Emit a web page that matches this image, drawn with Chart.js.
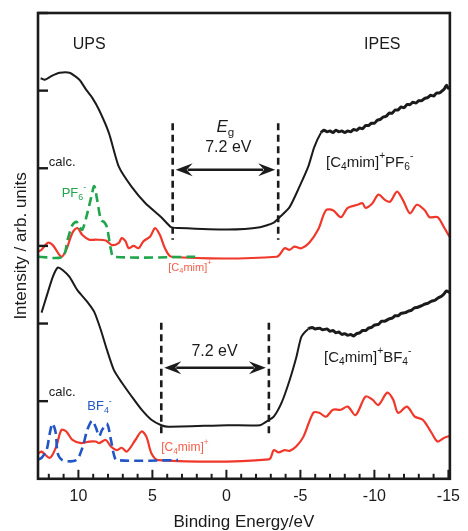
<!DOCTYPE html>
<html>
<head>
<meta charset="utf-8">
<script src="https://cdn.jsdelivr.net/npm/chart.js@4.4.1/dist/chart.umd.min.js"></script>
<style>
  body { margin: 0; background: #fff; }
  #wrap { width: 468px; height: 531px; }
</style>
</head>
<body>
<div id="wrap"><canvas id="spec" width="468" height="531"></canvas></div>
<script>
// binding energy (eV) / intensity (arb. units) pairs

// [C4mim]+PF6- : UPS + IPES measured
let expPF6 = [
  [12.55,5.16],[12.27,5.14],[11.8,5.19],[11.27,5.23],[10.6,5.23],[9.93,5.14],[9.47,5.01],
  [9.07,4.91],[8.6,4.75],[7.93,4.45],[7.27,4.02],[6.4,3.76],[5.47,3.55],[4.4,3.37],
  [3.73,3.24],[3.27,3.23],[-0.07,3.21],[-2.27,3.24],[-3.2,3.30],[-3.6,3.37],[-4.27,3.50],
  [-4.93,3.76],[-5.53,4.02],[-5.93,4.27],[-6.4,4.46],[-6.6,4.49],[-6.8,4.47],[-7.0,4.48],
  [-7.2,4.46],[-7.4,4.49],[-7.6,4.47],[-7.8,4.48],[-8.0,4.46],[-8.2,4.48],[-8.4,4.47],
  [-8.6,4.50],[-8.8,4.49],[-9.0,4.52],[-9.2,4.51],[-9.4,4.55],[-9.6,4.55],[-9.8,4.58],
  [-10.0,4.58],[-10.2,4.62],[-10.4,4.63],[-10.6,4.66],[-10.8,4.67],[-11.0,4.71],[-11.2,4.71],
  [-11.4,4.75],[-11.6,4.75],[-11.8,4.79],[-12.0,4.78],[-12.2,4.82],[-12.4,4.82],[-12.6,4.85],
  [-12.8,4.84],[-13.0,4.87],[-13.2,4.87],[-13.4,4.90],[-13.6,4.91],[-13.8,4.94],[-14.0,4.93],
  [-14.2,4.97],[-14.4,4.97],[-14.6,5.00],[-14.75,5.03],[-14.87,5.07],[-15.0,5.03],[-15.07,5.04]
];
// calculated DOS, cation part
let calcPF6 = [
  [12.7,2.93],[12.49,2.95],[12.07,3.04],[11.73,3.01],[11.15,2.86],[10.82,2.95],[10.4,3.17],
  [10.07,3.23],[9.73,3.14],[9.27,3.08],[8.82,3.08],[8.15,3.07],[7.73,3.01],[7.27,3.04],
  [7.07,3.10],[6.82,3.06],[6.6,2.97],[6.27,3.00],[5.93,2.97],[5.6,3.06],[5.15,3.12],
  [4.82,3.23],[4.49,3.14],[4.15,2.97],[3.71,2.86],[-3.4,2.86],[-3.93,2.97],[-4.27,2.95],
  [-4.6,2.99],[-5.07,2.97],[-5.6,3.04],[-6.2,3.21],[-6.73,3.46],[-7.2,3.46],[-7.73,3.37],
  [-8.2,3.49],[-8.87,3.53],[-9.2,3.55],[-9.4,3.49],[-9.87,3.55],[-10.27,3.66],[-10.73,3.59],
  [-11.07,3.57],[-11.53,3.70],[-11.93,3.59],[-12.4,3.42],[-12.87,3.53],[-13.4,3.46],
  [-13.73,3.37],[-14.27,3.37],[-14.73,3.23],[-15.07,3.12]
];
// calculated DOS, PF6- anion part
let anionPF6 = [
  [12.7,2.86],[11.07,2.86],[10.73,3.08],[10.4,3.27],[10.13,3.31],[9.93,3.24],[9.73,3.21],
  [9.4,3.42],[9.13,3.63],[8.93,3.77],[8.73,3.59],[8.47,3.33],[8.27,3.31],[8.07,3.24],
  [7.8,2.95],[7.6,2.86],[1.93,2.86]
];

// [C4mim]+BF4- : UPS + IPES measured
let expBF4 = [
  [12.49,2.14],[12.15,2.35],[11.73,2.60],[11.4,2.72],[11.07,2.69],[10.6,2.60],[10.07,2.43],
  [9.4,2.28],[8.93,2.15],[8.49,1.92],[8.07,1.66],[7.6,1.40],[7.07,1.24],[6.4,1.06],
  [5.73,0.89],[5.07,0.76],[4.4,0.69],[3.93,0.67],[-0.07,0.69],[-2.27,0.69],[-2.73,0.74],
  [-3.2,0.80],[-3.73,0.98],[-4.27,1.27],[-4.73,1.57],[-5.07,1.83],[-5.53,1.93],[-5.8,1.95],
  [-6.0,1.93],[-6.3,1.94],[-6.5,1.92],[-6.8,1.93],[-7.0,1.90],[-7.2,1.91],[-7.4,1.88],
  [-7.6,1.89],[-7.8,1.86],[-8.0,1.87],[-8.2,1.85],[-8.4,1.86],[-8.6,1.84],[-8.8,1.87],
  [-9.0,1.88],[-9.2,1.91],[-9.4,1.91],[-9.6,1.94],[-9.8,1.95],[-10.0,1.98],[-10.27,1.99],
  [-10.5,2.03],[-10.7,2.03],[-11.0,2.06],[-11.2,2.07],[-11.4,2.10],[-11.6,2.10],[-11.8,2.13],
  [-12.07,2.14],[-12.3,2.16],[-12.5,2.17],[-12.7,2.20],[-12.93,2.21],[-13.2,2.23],[-13.4,2.25],
  [-13.6,2.26],[-13.87,2.29],[-14.1,2.30],[-14.3,2.33],[-14.53,2.35],[-14.7,2.38],
  [-14.87,2.42],[-15.07,2.40]
];
let calcBF4 = [
  [12.7,0.33],[12.49,0.35],[11.93,0.27],[11.49,0.42],[11.15,0.63],[10.82,0.61],[10.4,0.50],
  [9.82,0.46],[9.27,0.48],[8.82,0.48],[8.6,0.46],[8.15,0.50],[7.82,0.42],[7.4,0.37],
  [7.07,0.40],[6.73,0.35],[6.15,0.50],[5.73,0.61],[5.4,0.54],[5.07,0.33],[4.6,0.24],
  [-2.87,0.25],[-3.2,0.37],[-3.53,0.34],[-3.93,0.37],[-4.27,0.36],[-4.73,0.42],[-5.2,0.54],
  [-5.87,0.85],[-6.27,0.85],[-6.73,0.80],[-7.2,0.89],[-7.73,0.89],[-8.2,0.93],[-8.73,0.82],
  [-9.4,1.06],[-9.87,1.02],[-10.27,0.95],[-10.87,1.11],[-11.27,1.02],[-11.6,0.85],
  [-12.2,0.93],[-12.73,0.80],[-13.27,0.76],[-13.87,0.59],[-14.27,0.48],[-14.73,0.53],
  [-15.07,0.55]
];
let anionBF4 = [
  [12.7,0.25],[12.49,0.27],[12.15,0.37],[11.93,0.59],[11.75,0.71],[11.53,0.59],[11.4,0.33],
  [11.07,0.24],[10.15,0.24],[9.73,0.40],[9.4,0.63],[9.07,0.75],[8.82,0.66],[8.6,0.55],
  [8.4,0.63],[8.07,0.71],[7.8,0.50],[7.6,0.31],[7.4,0.24],[3.27,0.24]
];

// band gap edges (eV)
let gapPF6 = [3.63, -3.5];
let gapBF4 = [4.4, -2.87];
let gapText = '7.2 eV';

let xTickLabels = [10, 5, 0, -5, -10, -15];

const ink = '#1b1b1b';
const red = '#f0372a';
const green = '#1fa64c';
const blue = '#2256c6';
const sans = '"Liberation Sans", Arial, sans-serif';

function pts(arr) {
  return arr.map(p => ({x: p[0], y: p[1]}));
}

// rich text: [text, kind] with kind '' | 'sub' | 'sup' | 'it'
function drawRich(ctx, parts, x, y, size, color, align) {
  const fontFor = k => (k === 'it' ? 'italic ' : '') + ((k === 'sub' || k === 'sup') ? size * 0.68 : size) + 'px ' + sans;
  let w = 0;
  parts.forEach(p => { ctx.font = fontFor(p[1]); w += ctx.measureText(p[0]).width; });
  let cx = align === 'center' ? x - w / 2 : x;
  ctx.fillStyle = color;
  ctx.textBaseline = 'middle';
  ctx.textAlign = 'left';
  parts.forEach(p => {
    ctx.font = fontFor(p[1]);
    let dy = p[1] === 'sub' ? size * 0.32 : p[1] === 'sup' ? -size * 0.42 : 0;
    ctx.fillText(p[0], cx, y + dy);
    cx += ctx.measureText(p[0]).width;
  });
}

const notes = [
  {x: 9.27, y: 5.59, parts: [['UPS', '']], size: 16, color: ink, align: 'center'},
  {x: -10.53, y: 5.59, parts: [['IPES', '']], size: 16, color: ink, align: 'center'},
  {x: 12.0, y: 4.07, parts: [['calc.', '']], size: 13, color: ink, align: 'left'},
  {x: 12.0, y: 1.11, parts: [['calc.', '']], size: 13, color: ink, align: 'left'},
  {x: 11.13, y: 3.68, parts: [['PF', ''], ['6', 'sub'], ['-', 'sup']], size: 13, color: green, align: 'left'},
  {x: 9.4, y: 0.93, parts: [['BF', ''], ['4', 'sub'], ['-', 'sup']], size: 13, color: blue, align: 'left'},
  {x: 3.93, y: 2.72, parts: [['[C', ''], ['4', 'sub'], ['mim]', ''], ['+', 'sup']], size: 11, color: '#f2604c', align: 'left'},
  {x: 4.4, y: 0.40, parts: [['[C', ''], ['4', 'sub'], ['mim]', ''], ['+', 'sup']], size: 12, color: '#f2604c', align: 'left'},
  {x: -6.73, y: 4.07, parts: [['[C', ''], ['4', 'sub'], ['mim]', ''], ['+', 'sup'], ['PF', ''], ['6', 'sub'], ['-', 'sup']], size: 15, color: ink, align: 'left'},
  {x: -6.6, y: 1.56, parts: [['[C', ''], ['4', 'sub'], ['mim]', ''], ['+', 'sup'], ['BF', ''], ['4', 'sub'], ['-', 'sup']], size: 15, color: ink, align: 'left'},
  {x: 0.07, y: 4.53, parts: [['E', 'it'], ['g', 'sub']], size: 17, color: ink, align: 'center'},
  {x: -0.13, y: 4.26, parts: [[gapText, '']], size: 16, color: ink, align: 'center'},
  {x: 0.8, y: 1.64, parts: [[gapText, '']], size: 16, color: ink, align: 'center'}
];

// dashed gap edges + double arrow: [edges, top, bottom, arrow level]
const gapMarks = [
  [gapPF6, 4.58, 3.08, 3.98],
  [gapBF4, 2.01, 0.53, 1.43]
];

function arrowHead(ctx, tipX, y, dir) {
  const L = 17, H = 6.5, N = 11;
  ctx.beginPath();
  ctx.moveTo(tipX, y);
  ctx.lineTo(tipX + dir * L, y - H);
  ctx.lineTo(tipX + dir * N, y);
  ctx.lineTo(tipX + dir * L, y + H);
  ctx.closePath();
  ctx.fill();
}

const decor = {
  id: 'decor',
  afterDatasetsDraw(chart) {
    const {ctx, chartArea: a, scales: {x, y}} = chart;
    ctx.save();
    ctx.strokeStyle = ink;
    ctx.fillStyle = ink;

    // gap markers
    gapMarks.forEach(([edges, top, bottom, level]) => {
      ctx.lineWidth = 2.6;
      ctx.setLineDash([7, 4.5]);
      edges.forEach(e => {
        const px = x.getPixelForValue(e);
        ctx.beginPath();
        ctx.moveTo(px, y.getPixelForValue(top));
        ctx.lineTo(px, y.getPixelForValue(bottom));
        ctx.stroke();
      });
      ctx.setLineDash([]);
      const x1 = x.getPixelForValue(edges[0]) + 3;
      const x2 = x.getPixelForValue(edges[1]) - 3;
      const ay = y.getPixelForValue(level);
      ctx.lineWidth = 2.4;
      ctx.beginPath();
      ctx.moveTo(x1 + 12, ay);
      ctx.lineTo(x2 - 12, ay);
      ctx.stroke();
      arrowHead(ctx, x1, ay, 1);
      arrowHead(ctx, x2, ay, -1);
    });

    // frame
    ctx.lineWidth = 2.6;
    ctx.strokeRect(a.left, a.top, a.right - a.left, a.bottom - a.top);

    // inward ticks, bottom axis every 1 eV
    ctx.lineWidth = 2;
    for (let v = -15; v <= 12; v++) {
      const px = x.getPixelForValue(v);
      const len = v % 5 === 0 ? 9 : 5;
      ctx.beginPath();
      ctx.moveTo(px, a.bottom);
      ctx.lineTo(px, a.bottom - len);
      ctx.stroke();
    }
    // left axis
    ctx.lineWidth = 2.4;
    for (let v = 1; v <= 6; v++) {
      const py = y.getPixelForValue(v);
      ctx.beginPath();
      ctx.moveTo(a.left, py);
      ctx.lineTo(a.left + 10, py);
      ctx.stroke();
    }

    notes.forEach(n => {
      drawRich(ctx, n.parts, x.getPixelForValue(n.x), y.getPixelForValue(n.y), n.size, n.color, n.align);
    });
    ctx.restore();
  }
};

const lineBase = {pointRadius: 0, fill: false, tension: 0.3};

new Chart(document.getElementById('spec'), {
  type: 'line',
  data: {
    datasets: [
      Object.assign({data: pts(anionPF6), borderColor: green, borderWidth: 2.6, borderDash: [9, 5]}, lineBase),
      Object.assign({data: pts(anionBF4), borderColor: blue, borderWidth: 2.6, borderDash: [9, 5]}, lineBase),
      Object.assign({data: pts(calcPF6), borderColor: red, borderWidth: 2.2}, lineBase),
      Object.assign({data: pts(calcBF4), borderColor: red, borderWidth: 2.2}, lineBase),
      Object.assign({data: pts(expPF6), borderColor: ink, borderWidth: 2,
        segment: {borderWidth: c => c.p0.parsed.x < -6 ? 3 : 2}}, lineBase, {tension: 0.2}),
      Object.assign({data: pts(expBF4), borderColor: ink, borderWidth: 2,
        segment: {borderWidth: c => c.p0.parsed.x < -5.3 ? 3 : 2}}, lineBase, {tension: 0.2})
    ]
  },
  options: {
    responsive: false,
    animation: false,
    layout: {padding: {left: 7, right: 12, top: 13, bottom: 0}},
    plugins: {legend: {display: false}, tooltip: {enabled: false}},
    scales: {
      x: {
        type: 'linear',
        reverse: true,
        min: -15.1,
        max: 12.73,
        afterBuildTicks: s => { s.ticks = xTickLabels.map(v => ({value: v})); },
        grid: {display: false, drawTicks: false},
        border: {display: false},
        ticks: {font: {family: sans, size: 16}, color: ink, padding: 8, maxRotation: 0,
          callback: v => String(v)},
        title: {display: true, text: 'Binding Energy/eV', color: ink,
          font: {family: sans, size: 17, lineHeight: 1}, padding: {top: 0, bottom: 0}}
      },
      y: {
        min: 0,
        max: 6,
        grid: {display: false, drawTicks: false},
        border: {display: false},
        ticks: {display: false},
        title: {display: true, text: 'Intensity / arb. units', color: ink,
          font: {family: sans, size: 17}, padding: {top: 4, bottom: 6.6}}
      }
    }
  },
  plugins: [decor]
});
</script>
</body>
</html>
